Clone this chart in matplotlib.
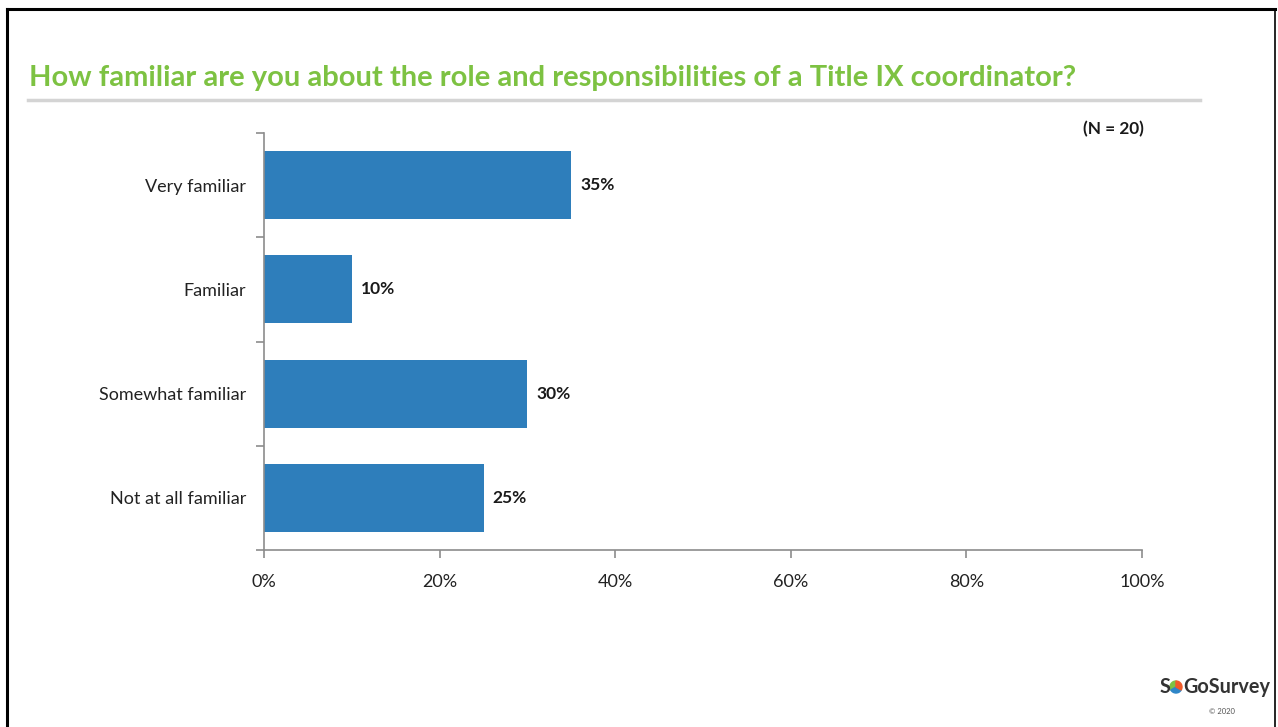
import matplotlib.pyplot as plt
from matplotlib.patches import Wedge
from matplotlib.lines import Line2D

categories = ['Very familiar', 'Familiar', 'Somewhat familiar', 'Not at all familiar']
percents = [35, 10, 30, 25]
x_ticks = [0, 20, 40, 60, 80, 100]

title = 'How familiar are you about the role and responsibilities of a Title IX coordinator?'
bar_color = '#2e7ebb'
title_color = '#7dc242'
axis_color = '#8c8c8c'

plt.rcParams['font.family'] = ['Lato', 'DejaVu Sans']

W, H = 1278, 727
fig = plt.figure(figsize=(W / 100, H / 100), dpi=100)

# slide frame
fig.add_artist(Line2D([7 / W, 7 / W], [0, 1 - 8.5 / H], color='black', lw=2.2))
fig.add_artist(Line2D([7 / W, 1275 / W], [1 - 8.5 / H, 1 - 8.5 / H], color='black', lw=2.2))
fig.add_artist(Line2D([1275 / W, 1275 / W], [0, 1 - 8.5 / H], color='black', lw=1.2))

fig.text(29 / W, 1 - 78 / H, title, color=title_color, fontsize=21,
         fontweight='bold', va='center', ha='left')
fig.add_artist(Line2D([28 / W, 1200 / W], [1 - 100 / H, 1 - 100 / H],
                      color='#d4d4d4', lw=2.5))

ax = fig.add_axes([264 / W, 1 - 550 / H, (1142 - 264) / W, (550 - 133) / H])
y = range(len(categories))
ax.barh(y, percents, height=0.65, color=bar_color)
for i, v in enumerate(percents):
    ax.text(v + 1.0, i, f'{v}%', va='center', ha='left', fontsize=12.5,
            fontweight='bold', color='#1a1a1a')

ax.set_xlim(0, 100)
ax.set_ylim(len(categories) - 0.5, -0.5)
ax.set_xticks(x_ticks)
ax.set_xticklabels([f'{t}%' for t in x_ticks], fontsize=13, color='#222222')
ax.set_yticks([i + 0.5 for i in range(-1, len(categories))], minor=False)
ax.set_yticklabels([])
ax.set_yticks(list(y), minor=True)
ax.set_yticklabels(categories, minor=True, fontsize=13, color='#222222')
ax.tick_params(axis='y', which='minor', length=0, pad=13)
ax.tick_params(axis='y', which='major', length=6, color=axis_color, width=1.2)
ax.tick_params(axis='x', length=6, color=axis_color, width=1.2, pad=11)
for side in ['top', 'right']:
    ax.spines[side].set_visible(False)
for side in ['left', 'bottom']:
    ax.spines[side].set_color(axis_color)
    ax.spines[side].set_linewidth(1.2)

fig.text(1144 / W, 1 - 129 / H, '(N = 20)', fontsize=12.4, fontweight='bold',
         ha='right', va='center', color='#1a1a1a')

# SoGoSurvey mark
fig.text(1160 / W, 1 - 687 / H, 'S', fontsize=14.3, fontweight='bold',
         color='#333333', ha='left', va='center')
cx, cy, r = 11.76, (H - 687) / 100, 0.06
for a0, a1, c in [(90, 210, '#7dc242'), (210, 330, '#2e86c8'), (330, 450, '#f05a28')]:
    fig.add_artist(Wedge((cx, cy), r, a0, a1, color=c, transform=fig.dpi_scale_trans))
fig.text(1183 / W, 1 - 687 / H, 'GoSurvey', fontsize=14.3, fontweight='bold',
         color='#333333', ha='left', va='center')
fig.text(1222 / W, 1 - 712 / H, '© 2020', fontsize=5.5, color='#555555',
         ha='center', va='center')

fig.savefig('out.png', dpi=100, facecolor='white')
